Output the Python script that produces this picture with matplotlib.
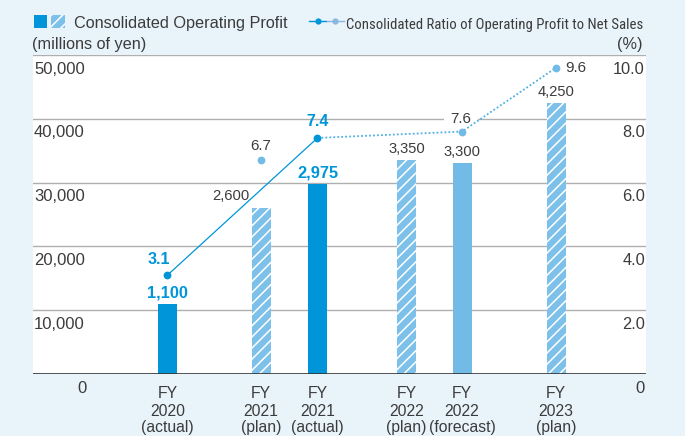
import matplotlib
matplotlib.use("Agg")
import matplotlib.pyplot as plt
import matplotlib.font_manager as fm
from matplotlib.patches import Rectangle
from matplotlib.lines import Line2D

# ---------------- data ----------------
categories = ["FY\n2020\n(actual)", "FY\n2021\n(plan)", "FY\n2021\n(actual)",
              "FY\n2022\n(plan)", "FY\n2022\n(forecast)", "FY\n2023\n(plan)"]
bar_kind = ["actual", "plan", "actual", "plan", "forecast", "plan"]
profit = [1100, 2600, 2975, 3350, 3300, 4250]          # millions of yen (labels)
ratio = [3.1, 6.7, 7.4, None, 7.6, 9.6]                 # %
solid_idx = [0, 2]          # actual ratio line
dotted_idx = [2, 4, 5]      # forecast / plan ratio line
left_ticks = [1000, 2000, 3000, 4000, 5000]
left_tick_labels = ["10,000", "20,000", "30,000", "40,000", "50,000"]
right_ticks = [2, 4, 6, 8, 10]
right_tick_labels = ["2.0", "4.0", "6.0", "8.0", "10.0"]
legend_bar = "Consolidated Operating Profit"
legend_line = "Consolidated Ratio of Operating Profit to Net Sales"
unit_left = "(millions of yen)"
unit_right = "(%)"

# ---------------- style ----------------
W, H = 685, 436
BG = "#E8F3FA"
DARK = "#0095D9"
LIGHT = "#72BBE6"
HATCHC = "#7DC1EA"
GRAY = "#3C3C3C"
GRID = "#AFAFAF"
FONT = "Liberation Sans"
plt.rcParams["font.family"] = [FONT, "DejaVu Sans"]
plt.rcParams["hatch.linewidth"] = 1.1

names = {f.name for f in fm.fontManager.ttflist}
narrow = None
for cand in ["Liberation Sans Narrow", "Roboto Condensed", "Open Sans Condensed"]:
    if cand in names:
        narrow = cand
        break

def px2pt(p):
    return p * 72.0 / 100.0

def fx(x):
    return x / W

def fy(y):
    return 1 - y / H

# layout: bar centres in pixels relative to plot left edge
PL, PR, PT, PB = 33, 646, 55, 374
xpos = [167.5 - PL, 261 - PL, 317.5 - PL, 406.5 - PL, 462 - PL, 556 - PL]
bar_w = 19

fig = plt.figure(figsize=(W / 100, H / 100), dpi=100, facecolor=BG)
ax = fig.add_axes([fx(PL), (H - PB) / H, (PR - PL) / W, (PB - PT) / H])
ax.set_facecolor("white")
ax.set_xlim(0, PR - PL)
ax.set_ylim(0, 5000)
for s in ax.spines.values():
    s.set_visible(False)
ax.set_xticks([])
ax.set_yticks([])

ax2 = ax.twinx()
ax2.set_ylim(0, 10)
ax2.set_xlim(0, PR - PL)
for s in ax2.spines.values():
    s.set_visible(False)
ax2.set_yticks([])

# gridlines
for t in left_ticks:
    ax.axhline(t, color=GRID, lw=1.0, zorder=0.5)
ax.axhline(0, color="#333333", lw=1.2, zorder=3)

# left / right tick labels inside plot area, under each gridline
for t, lab in zip(left_ticks, left_tick_labels):
    ax.annotate(lab, xy=(0, t), xycoords=("axes fraction", "data"),
                xytext=(px2pt(1), -px2pt(18.5)), textcoords="offset points",
                ha="left", va="baseline", fontsize=12, color=GRAY, zorder=1)
for t, lab in zip(right_ticks, right_tick_labels):
    ax2.annotate(lab, xy=(1, t), xycoords=("axes fraction", "data"),
                 xytext=(-px2pt(1), -px2pt(18.5)), textcoords="offset points",
                 ha="right", va="baseline", fontsize=11.8, color=GRAY, zorder=1)
fig.text(fx(81.5), fy(393), "0", ha="center", va="baseline", fontsize=12, color=GRAY)
fig.text(fx(645), fy(393), "0", ha="right", va="baseline", fontsize=12, color=GRAY)

# bars
for i, (x, v, k) in enumerate(zip(xpos, profit, bar_kind)):
    if k == "actual":
        ax.bar(x, v, width=bar_w, color=DARK, linewidth=0, zorder=2)
    elif k == "forecast":
        ax.bar(x, v, width=bar_w, color=LIGHT, linewidth=0, zorder=2)
    else:
        ax.bar(x, v, width=bar_w, facecolor=HATCHC, edgecolor="white",
               hatch="///", linewidth=0, zorder=2)

# bar labels
for i, (x, v, k) in enumerate(zip(xpos, profit, bar_kind)):
    dx, dy = 0, 11
    if i == 1:
        dx, dy = -30, 12
    if k == "actual":
        ax.annotate(f"{v:,}", xy=(x, v), xytext=(px2pt(dx), px2pt(dy)),
                    textcoords="offset points", ha="center", va="center",
                    fontsize=11.8, fontweight="bold", color=DARK, zorder=4)
    else:
        ax.annotate(f"{v:,}", xy=(x, v), xytext=(px2pt(dx), px2pt(dy)),
                    textcoords="offset points", ha="center", va="center",
                    fontsize=10.6, color=GRAY, zorder=4)

# ratio lines
ax2.plot([xpos[i] for i in solid_idx], [ratio[i] for i in solid_idx],
         color=DARK, lw=0.9, zorder=3)
ax2.plot([xpos[i] for i in dotted_idx], [ratio[i] for i in dotted_idx],
         color="#4FB0E3", lw=1.3, dashes=(1.0, 1.2), zorder=3)
for i, r in enumerate(ratio):
    if r is None:
        continue
    c = DARK if bar_kind[i] == "actual" else LIGHT
    ax2.plot([xpos[i]], [r], marker="o", ms=5.6, color=c, mec="none", zorder=4)

# ratio labels
ratio_label_pos = {0: (-9, 16, "center"), 1: (0, 14, "center"), 2: (0, 16, "center"),
                   4: (-1, 12.5, "center"), 5: (9, 0, "left")}
for i, r in enumerate(ratio):
    if r is None:
        continue
    dx, dy, ha = ratio_label_pos[i]
    if bar_kind[i] == "actual":
        ax2.annotate(f"{r:.1f}", xy=(xpos[i], r), xytext=(px2pt(dx), px2pt(dy)),
                     textcoords="offset points", ha=ha, va="center",
                     fontsize=11.5, fontweight="bold", color=DARK, zorder=5)
    else:
        kw = {}
        z = 5
        if i == 4:
            kw["bbox"] = dict(boxstyle="square,pad=0.45", fc="white", ec="none")
            z = 1
        ax2.annotate(f"{r:.1f}", xy=(xpos[i], r), xytext=(px2pt(dx), px2pt(dy)),
                     textcoords="offset points", ha=ha, va="center",
                     fontsize=10.8, color=GRAY, zorder=z, **kw)

# category labels (each line separately)
line_base = [398, 416, 432]
for x, cat in zip(xpos, categories):
    for j, part in enumerate(cat.split("\n")):
        fig.text(fx(x + PL), fy(line_base[j]), part, ha="center", va="baseline",
                 fontsize=11.3, color=GRAY)

# ---------------- header / legend ----------------
fig.add_artist(Rectangle((fx(34), fy(28)), 13 / W, 13 / H, transform=fig.transFigure,
                         facecolor=DARK, linewidth=0))
fig.add_artist(Rectangle((fx(51), fy(28)), 14 / W, 13 / H, transform=fig.transFigure,
                         facecolor=HATCHC, edgecolor="white", hatch="///", linewidth=0))
fig.text(fx(74), fy(28), legend_bar, ha="left", va="baseline", fontsize=11.7, color=GRAY)

fig.add_artist(Line2D([fx(309), fx(326)], [fy(21), fy(21)], transform=fig.transFigure,
                      color=DARK, lw=1.0))
fig.add_artist(Line2D([fx(318)], [fy(21)], transform=fig.transFigure, marker="o",
                      ms=4.5, color=DARK, mec="none", lw=0))
fig.add_artist(Line2D([fx(327), fx(344)], [fy(21), fy(21)], transform=fig.transFigure,
                      color="#8AB6E0", lw=1.0))
fig.add_artist(Line2D([fx(335)], [fy(21)], transform=fig.transFigure, marker="o",
                      ms=4.5, color="#8AB6E0", mec="none", lw=0))

target_w = 643 - 346
if narrow:
    t2 = fig.text(fx(643), fy(29), legend_line, ha="right", va="baseline",
                  fontsize=11.5, color=GRAY, family=[narrow, FONT])
else:
    t2 = fig.text(fx(643), fy(29), legend_line, ha="right", va="baseline",
                  fontsize=11.5, color=GRAY)
fig.canvas.draw()
r = fig.canvas.get_renderer()
w = t2.get_window_extent(r).width
t2.set_fontsize(11.5 * target_w / w)

fig.text(fx(32), fy(48.5), unit_left, ha="left", va="baseline", fontsize=11.7, color=GRAY)
fig.text(fx(643), fy(48.5), unit_right, ha="right", va="baseline", fontsize=11.7, color=GRAY)

fig.savefig("out.png", dpi=100, facecolor=BG)
